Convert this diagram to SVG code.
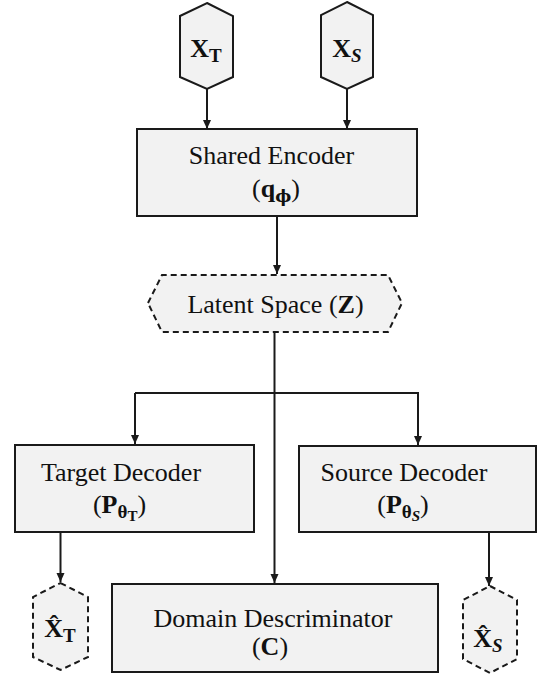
<svg xmlns="http://www.w3.org/2000/svg" width="538" height="677" viewBox="0 0 538 677">
<defs>
<style>
.box{fill:#f2f2f2;stroke:#1a1a1a;stroke-width:2}
.dash{fill:#f2f2f2;stroke:#1a1a1a;stroke-width:2;stroke-dasharray:6 4}
.lbl{font-family:"Liberation Serif","DejaVu Serif",serif;font-size:26px;fill:#111;text-anchor:middle}
.b{font-weight:bold}
.sub{font-size:19px;font-weight:bold}
.sub2{font-size:15px;font-weight:bold}
.phi{font-family:"DejaVu Serif",serif;font-size:17px;font-weight:bold}
.conn{fill:none;stroke:#1a1a1a;stroke-width:2}
</style>
<marker id="ah" markerWidth="10" markerHeight="10" refX="9" refY="5" orient="auto" markerUnits="userSpaceOnUse">
<path d="M0,1 L9,5 L0,9 Z" fill="#1a1a1a"/>
</marker>
</defs>
<rect width="538" height="677" fill="#ffffff"/>

<g id="connectors">
<line class="conn" x1="207" y1="89" x2="207" y2="129" marker-end="url(#ah)"/>
<line class="conn" x1="347" y1="89" x2="347" y2="129" marker-end="url(#ah)"/>
<line class="conn" x1="277" y1="216" x2="277" y2="274" marker-end="url(#ah)"/>
<line class="conn" x1="274.5" y1="332" x2="274.5" y2="583" marker-end="url(#ah)"/>
<polyline class="conn" points="135,393 418,393 418,445" marker-end="url(#ah)"/>
<line class="conn" x1="135" y1="393" x2="135" y2="444" marker-end="url(#ah)"/>
<line class="conn" x1="60.5" y1="532" x2="60.5" y2="582" marker-end="url(#ah)"/>
<line class="conn" x1="489" y1="532" x2="489" y2="586" marker-end="url(#ah)"/>
</g>

<g id="xt">
<polygon class="box" points="207,3 233,16 233,77 207,89 180,77 180,16"/>
<text class="lbl b" x="206" y="57" font-size="26">X<tspan class="sub" dy="5">T</tspan></text>
</g>

<g id="xs">
<polygon class="box" points="347,2 373,15 373,77 347,89 321,77 321,15"/>
<text class="lbl b" x="347" y="57" font-size="26">X<tspan class="sub" font-style="italic" dy="5">S</tspan></text>
</g>

<g id="encoder">
<rect class="box" x="137" y="129" width="280" height="87"/>
<text class="lbl" x="271.5" y="164">Shared Encoder</text>
<text class="lbl" x="276" y="197">(<tspan class="b">q</tspan><tspan class="phi" dy="5">ϕ</tspan><tspan dy="-5">)</tspan></text>
</g>

<g id="latent">
<polygon class="dash" points="148,303 162,275 388,275 402,303 388,332 162,332"/>
<text class="lbl" x="275.5" y="313">Latent Space (<tspan class="b">Z</tspan>)</text>
</g>

<g id="target-decoder">
<rect class="box" x="15" y="445" width="239" height="87"/>
<text class="lbl" x="121" y="481">Target Decoder</text>
<text class="lbl" x="119.5" y="513">(<tspan class="b">P</tspan><tspan class="sub" dy="5">θ</tspan><tspan class="sub2" dy="3">T</tspan><tspan dy="-8">)</tspan></text>
</g>

<g id="source-decoder">
<rect class="box" x="299" y="446" width="237" height="86"/>
<text class="lbl" x="404" y="481">Source Decoder</text>
<text class="lbl" x="403" y="513">(<tspan class="b">P</tspan><tspan class="sub" dy="5">θ</tspan><tspan class="sub2" font-style="italic" dy="3">S</tspan><tspan dy="-8">)</tspan></text>
</g>

<g id="discriminator">
<rect class="box" x="112" y="584" width="326" height="88"/>
<text class="lbl" x="273" y="627">Domain Descriminator</text>
<text class="lbl" x="270" y="655">(<tspan class="b">C</tspan>)</text>
</g>

<g id="xt-hat">
<polygon class="dash" points="60.5,583 88,597 88,657 60.5,670 33,657 33,597"/>
<text class="lbl b" x="60" y="637" font-size="25">X̂<tspan class="sub" dy="5">T</tspan></text>
</g>

<g id="xs-hat">
<polygon class="dash" points="490,586 517,600 517,659 490,673 463,659 463,600"/>
<text class="lbl b" x="488" y="647" font-size="25">X̂<tspan class="sub" font-style="italic" dy="5">S</tspan></text>
</g>
</svg>
